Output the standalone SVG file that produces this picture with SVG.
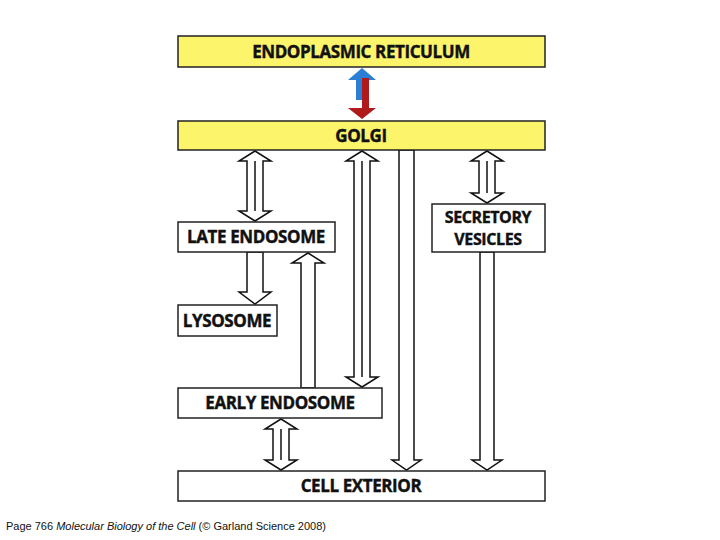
<svg xmlns="http://www.w3.org/2000/svg" width="720" height="540" viewBox="0 0 720 540">
<style>
.box{fill:#fff;stroke:#222;stroke-width:1.5}
.y{fill:#fcf46a}
.t{font-family:"Open Sans","Liberation Sans",sans-serif;font-weight:bold;font-size:17px;letter-spacing:-0.4px;fill:#111;text-anchor:middle;stroke:#111;stroke-width:0.4}
.s{font-size:16px}
.a{fill:#fff;stroke:#111;stroke-width:1.5;stroke-linejoin:miter}
.l{stroke:#111;stroke-width:1.5}
</style>
<rect width="720" height="540" fill="#fff"/>
<g id="connectors">
<polygon points="356,80 348,80 362,68 376,80 363,80 363,100 356,100" fill="#2a7fd4"/>
<polygon points="362,78 369,78 369,108 376,108 362,119 348,108 362,108" fill="#b01a1a"/>
<polygon class="a" points="255,151 271,161 263,161 263,211 271,211 255,221 239,211 247,211 247,161 239,161"/>
<line class="l" x1="255" y1="161" x2="255" y2="211"/>
<polygon class="a" points="362,151 378,161 370,161 370,377 378,377 362,387 346,377 354,377 354,161 346,161"/>
<line class="l" x1="362" y1="161" x2="362" y2="377"/>
<polygon class="a" points="487,151 503,161 495,161 495,193 503,193 487,203 471,193 479,193 479,161 471,161"/>
<line class="l" x1="487" y1="161" x2="487" y2="193"/>
<polygon class="a" points="281,419 297,429 289,429 289,460 297,460 281,470 265,460 273,460 273,429 265,429"/>
<line class="l" x1="281" y1="429" x2="281" y2="460"/>
<polygon class="a" points="399,150 414,150 414,460 421,460 406.5,470 392,460 399,460"/>
<polygon class="a" points="480,252 494,252 494,460 502,460 487,470 472,460 480,460"/>
<polygon class="a" points="247,252 263,252 263,292 271,292 255,304 239,292 247,292"/>
<polygon class="a" points="301,388 315,388 315,263 324,263 308,253 292,263 301,263"/>
</g>
<g id="er"><rect class="box y" x="178" y="36" width="367" height="31"/><text class="t" x="361" y="58">ENDOPLASMIC RETICULUM</text></g>
<g id="golgi"><rect class="box y" x="178" y="121" width="367" height="29"/><text class="t" x="361" y="142">GOLGI</text></g>
<g id="late"><rect class="box" x="178" y="222" width="157" height="30"/><text class="t" x="256" y="243">LATE ENDOSOME</text></g>
<g id="secretory"><rect class="box" x="432" y="204" width="113" height="48"/><text class="t s" x="488" y="223">SECRETORY</text><text class="t s" x="488" y="245">VESICLES</text></g>
<g id="lysosome"><rect class="box" x="178" y="305" width="99" height="31"/><text class="t" x="227" y="327">LYSOSOME</text></g>
<g id="early"><rect class="box" x="178" y="388" width="204" height="30"/><text class="t" x="280" y="409">EARLY ENDOSOME</text></g>
<g id="exterior"><rect class="box" x="178" y="471" width="367" height="30"/><text class="t" x="361" y="492">CELL EXTERIOR</text></g>
<text x="6" y="530" font-family="Liberation Sans,Arial,sans-serif" font-size="11" fill="#111">Page 766  <tspan font-style="italic">Molecular Biology of the Cell</tspan> (© Garland Science 2008)</text>
</svg>
